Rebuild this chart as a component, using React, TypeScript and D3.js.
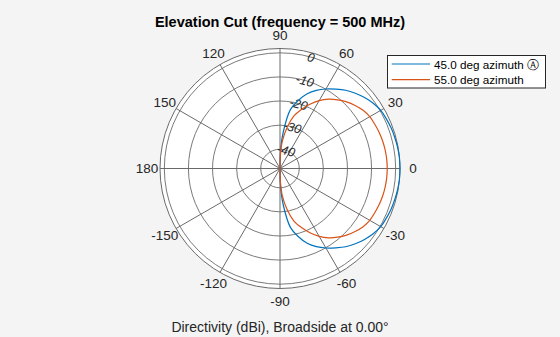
import React from "react";
import * as d3 from "d3";

const elevationDeg = [-90, -88, -85, -80, -75, -70, -65, -60, -55, -50, -45, -40, -35, -30, -25, -20, -15, -10, -5, 0, 5, 10, 15, 20, 25, 30, 35, 40, 45, 50, 55, 60, 65, 70, 75, 80, 85, 88, 90];
const az45dB = [-48, -40, -33, -23.2, -18.8, -15.0, -12.2, -9.9, -7.8, -5.6, -3.8, -2.2, -0.8, 0.3, 0.7, 1.1, 1.35, 1.6, 1.75, 1.8, 1.75, 1.6, 1.35, 1.1, 0.7, 0.3, -0.8, -2.2, -3.8, -5.6, -7.8, -9.9, -12.2, -15.0, -18.8, -23.2, -33, -40, -48];
const az55dB = [-48, -42, -36.5, -30.5, -25.3, -21.9, -18.6, -15.5, -12.9, -10.8, -8.9, -7.3, -5.9, -5.0, -4.6, -4.2, -3.9, -3.7, -3.55, -3.5, -3.55, -3.7, -3.9, -4.2, -4.6, -5.0, -5.9, -7.3, -8.9, -10.8, -12.9, -15.5, -18.6, -21.9, -25.3, -30.5, -36.5, -42, -48];
const seriesNames = ["45.0 deg azimuth \u24B6", "55.0 deg azimuth"];
const seriesColors = ["#0072BD", "#D95319"];
const angleTicks = [0, 30, 60, 90, 120, 150, 180, -150, -120, -90, -60, -30];
const radialTicks = [0, -10, -20, -30, -40];
const rMin = -48;
const rMax = 1.8;

const W = 560;
const H = 337;
const cx = 280;
const cy = 168.5;
const R = 120;
const font = "'Liberation Sans', Arial, Helvetica, sans-serif";

export default function App() {
  const r = d3.scaleLinear().domain([rMin, rMax]).range([0, R]);
  const pt = (deg: number, rad: number): [number, number] => {
    const a = (deg * Math.PI) / 180;
    return [cx + rad * Math.cos(a), cy - rad * Math.sin(a)];
  };
  const series = [az45dB, az55dB];
  const line = d3
    .line<[number, number]>()
    .x((d) => d[0])
    .y((d) => d[1])
    .curve(d3.curveCatmullRom.alpha(0.5));

  const spokes = d3.range(0, 360, 30);

  return (
    <svg width={W} height={H} style={{ position: "absolute", left: 0, top: 0, display: "block" }} fontFamily={font}>
      <rect x={0} y={0} width={W} height={H} fill="#f4f4f4" />
      <circle cx={cx} cy={cy} r={R} fill="#ffffff" stroke="none" />
      {radialTicks.map((t) => (
        <circle key={"c" + t} cx={cx} cy={cy} r={r(t)} fill="none" stroke="#7a7a7a" strokeWidth={1} />
      ))}
      {spokes.map((a) => {
        const [x2, y2] = pt(a, R);
        return <line key={"s" + a} x1={cx} y1={cy} x2={x2} y2={y2} stroke="#6a6a6a" strokeWidth={1} />;
      })}
      <circle cx={cx} cy={cy} r={R} fill="none" stroke="#6a6a6a" strokeWidth={1} />
      {radialTicks.map((t) => {
        const [x, y] = pt(75, r(t));
        return (
          <text
            key={"rl" + t}
            x={x + 1}
            y={y + 1}
            fontSize={12.5}
            fontStyle="italic"
            fill="#262626"
            textAnchor="middle"
            dominantBaseline="central"
            transform={`rotate(15 ${x + 1} ${y + 1})`}
          >
            {t}
          </text>
        );
      })}
      {series.map((vals, i) => {
        const pts = elevationDeg.map((e, j) => pt(e, r(Math.max(rMin, vals[j]))));
        return (
          <path key={"p" + i} d={line(pts) || ""} fill="none" stroke={seriesColors[i]} strokeWidth={1.2} />
        );
      })}
      {angleTicks.map((a) => {
        const [x, y] = pt(a, 133);
        return (
          <text key={"a" + a} x={x} y={y} fontSize={13.5} fill="#262626" textAnchor="middle" dominantBaseline="central">
            {a}
          </text>
        );
      })}
      <text x={280} y={26.5} fontSize={14.5} fontWeight="bold" fill="#000" textAnchor="middle">
        Elevation Cut (frequency = 500 MHz)
      </text>
      <text x={280} y={331.5} fontSize={14} fill="#262626" textAnchor="middle">
        Directivity (dBi), Broadside at 0.00°
      </text>
      <g>
        <rect x={387.5} y={55.5} width={158} height={32.5} fill="#ffffff" stroke="#262626" strokeWidth={1} />
        {seriesNames.map((n, i) => {
          const y = 64 + i * 15.7;
          return (
            <g key={"lg" + i}>
              <line x1={391.7} x2={430} y1={y} y2={y} stroke={seriesColors[i]} strokeWidth={1.2} />
              <text x={434} y={y} fontSize={11.7} fill="#000" dominantBaseline="central">
                {n}
              </text>
            </g>
          );
        })}
      </g>
    </svg>
  );
}
